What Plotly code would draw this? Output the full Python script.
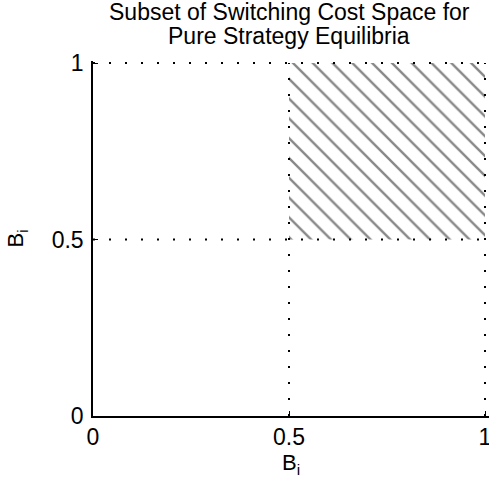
import plotly.graph_objects as go

# Data
region_x = [0.5, 1.0, 1.0, 0.5, 0.5]
region_y = [0.5, 0.5, 1.0, 1.0, 0.5]
h_levels = [0.5, 1.0]   # dotted horizontal reference lines
v_levels = [0.5, 1.0]   # dotted vertical reference lines
tick_vals = [0, 0.5, 1]
tick_text = ["0", "0.5", "1"]
title_lines = ["Subset of Switching Cost Space for", "Pure Strategy Equilibria"]
axis_label = "B<sub>i</sub>"

fig = go.Figure()

# Hatched region
fig.add_trace(go.Scatter(
    x=region_x, y=region_y, mode="lines", fill="toself",
    fillcolor="rgba(255,255,255,0)",
    line=dict(width=0, color="rgba(0,0,0,0)"),
    fillpattern=dict(shape="\\", size=14, solidity=0.17, fgcolor="#101010",
                     bgcolor="rgba(255,255,255,0)"),
    hoverinfo="skip", showlegend=False))

dot = dict(color="black", width=2, dash="2px,14px")
for y in h_levels:
    fig.add_trace(go.Scatter(x=[0, 1], y=[y, y], mode="lines", line=dot,
                             cliponaxis=False, showlegend=False, hoverinfo="skip"))
for x in v_levels:
    fig.add_trace(go.Scatter(x=[x, x], y=[0, 1], mode="lines", line=dot,
                             cliponaxis=False, showlegend=False, hoverinfo="skip"))

FS = 23
font = dict(family="Liberation Sans, Arial, sans-serif", size=FS, color="black")

# Title as two tightly spaced lines
for txt, shift in zip(title_lines, [49, 25]):
    fig.add_annotation(text=txt, xref="paper", yref="paper", x=(485 - 93) / 2 / 396, y=1,
                       xanchor="center", yanchor="middle", yshift=shift,
                       showarrow=False, font=dict(size=FS))

# plot area: x 93..489 px, y 61..416 px; value 1 sits at x=485, y=63
fig.update_layout(
    width=489, height=481,
    margin=dict(l=93, r=0, t=61, b=65, autoexpand=False),
    paper_bgcolor="white", plot_bgcolor="white",
    font=font,
    showlegend=False,
)
fig.update_xaxes(range=[0, 396 / 392], tickvals=tick_vals, ticktext=tick_text,
                 showgrid=False, zeroline=False, showline=True, linecolor="black",
                 linewidth=1.5, ticks="inside", ticklen=5, tickcolor="black",
                 ticklabeloverflow="allow",
                 title=dict(text=axis_label, standoff=4,
                            font=dict(family="Liberation Sans, Arial, sans-serif", size=22)))
fig.update_yaxes(range=[0, 355 / 353], tickvals=tick_vals, ticktext=tick_text,
                 showgrid=False, zeroline=False, showline=True, linecolor="black",
                 linewidth=1.5, ticks="inside", ticklen=5, tickcolor="black",
                 ticklabelstandoff=3, ticklabeloverflow="allow",
                 title=dict(text=axis_label, standoff=22,
                            font=dict(family="Liberation Sans, Arial, sans-serif", size=22)))

fig.write_html("out.html", config={"displayModeBar": False},
               post_script="document.body.style.margin='0px';")
